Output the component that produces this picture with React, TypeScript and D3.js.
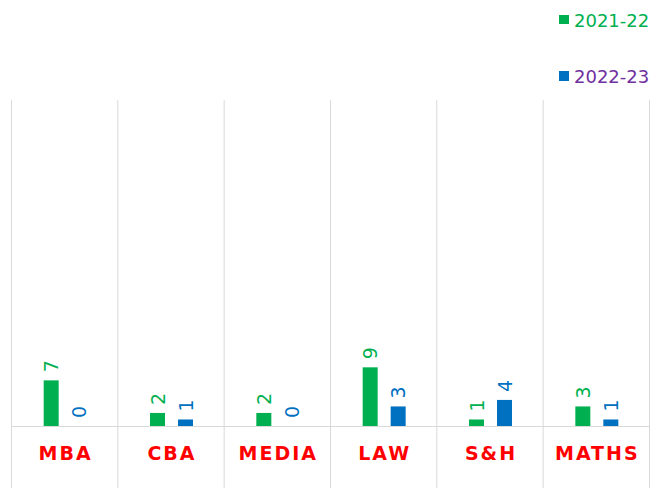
import React from "react";
import * as d3 from "d3";

const categories = ["MBA", "CBA", "MEDIA", "LAW", "S&H", "MATHS"];
const series2122 = [7, 2, 2, 9, 1, 3];
const series2223 = [0, 1, 0, 3, 4, 1];
const seriesNames = ["2021-22", "2022-23"];

const W = 672;
const H = 488;

export default function App() {
  const x = d3.scaleBand<string>().domain(categories).range([11.5, 649.5]).padding(0);
  const y = d3.scaleLinear().domain([0, 50]).range([426, 100]);
  const bw = x.bandwidth();
  const green = "#00B050";
  const blue = "#0070C0";
  const font = "Verdana, 'DejaVu Sans', sans-serif";
  const barW = 15;
  const series = [
    { name: seriesNames[0], values: series2122, color: green, off: -21 },
    { name: seriesNames[1], values: series2223, color: blue, off: 7 },
  ];
  return (
    <svg
      width={W}
      height={H}
      style={{ position: "absolute", left: 0, top: 0 }}
      fontFamily={font}
    >
      <rect width={W} height={H} fill="#fff" />
      {categories.map((c) => (
        <line key={c} x1={x(c)!} x2={x(c)!} y1={100} y2={H} stroke="#d9d9d9" strokeWidth={1} />
      ))}
      <line x1={649.5} x2={649.5} y1={100} y2={H} stroke="#d9d9d9" strokeWidth={1} />
      <line x1={11.5} x2={649.5} y1={426.5} y2={426.5} stroke="#d9d9d9" strokeWidth={1} />
      {series.map((s) =>
        categories.map((c, i) => {
          const cx = x(c)! + bw / 2 + s.off;
          const v = s.values[i];
          const top = y(v);
          const lx = cx + barW / 2;
          const ly = top - 8;
          return (
            <g key={s.name + c}>
              {v > 0 && <rect x={cx} y={top} width={barW} height={426 - top} fill={s.color} />}
              <text
                transform={`translate(${lx + 7},${ly}) rotate(-90)`}
                fontSize={19}
                fill={s.color}
                textAnchor="start"
              >
                {v}
              </text>
            </g>
          );
        })
      )}
      {categories.map((c) => (
        <text
          key={"l" + c}
          x={x(c)! + bw / 2 + 1}
          y={460}
          textAnchor="middle"
          fill="#FF0000"
          fontWeight="bold"
          fontSize={19}
          letterSpacing={2}
        >
          {c}
        </text>
      ))}
      <rect x={559} y={15} width={10} height={9} fill={green} />
      <text x={574} y={27} fontSize={18} fill={green}>
        {seriesNames[0]}
      </text>
      <rect x={559} y={71} width={10} height={10} fill={blue} />
      <text x={574} y={83} fontSize={18} fill="#7030A0">
        {seriesNames[1]}
      </text>
    </svg>
  );
}
